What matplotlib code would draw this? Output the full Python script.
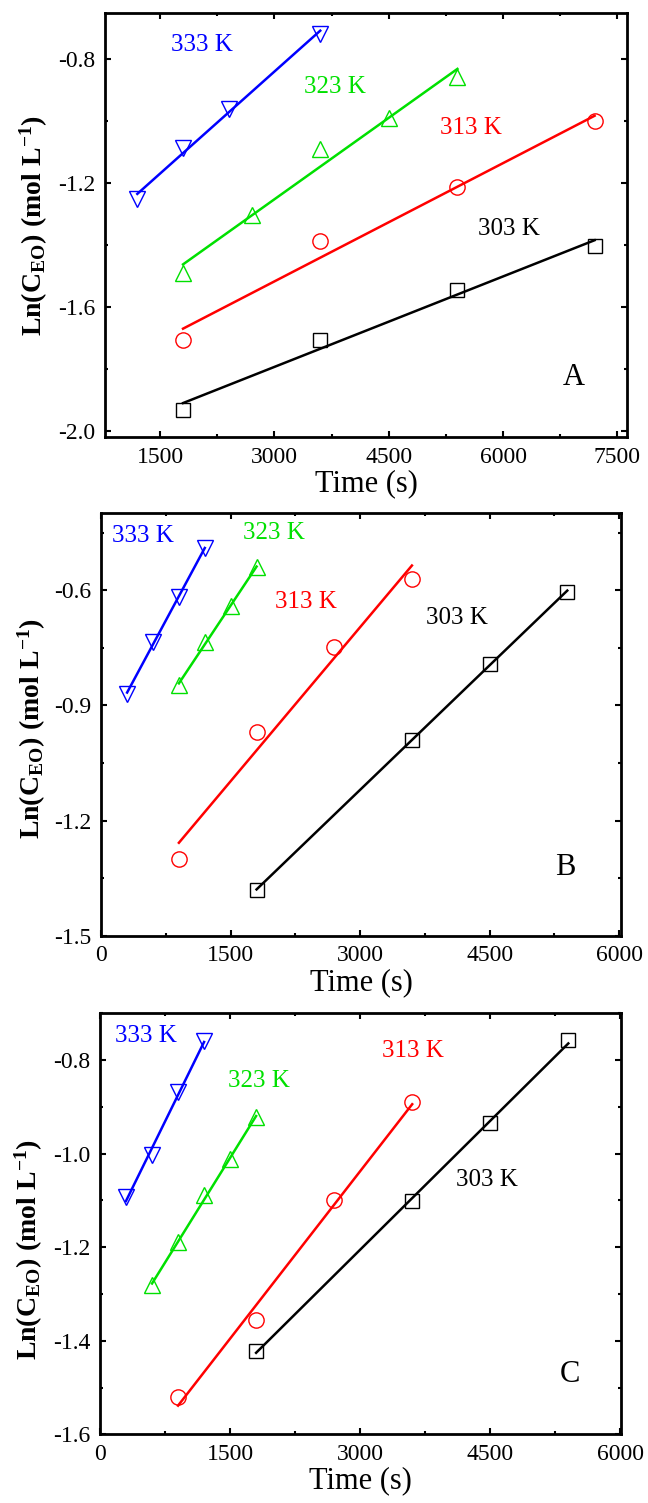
import numpy as np
import matplotlib
matplotlib.use("Agg")
import matplotlib.pyplot as plt
from matplotlib.ticker import MultipleLocator, FormatStrFormatter

plt.rcParams["font.family"] = ["Liberation Serif", "DejaVu Serif"]
plt.rcParams["mathtext.fontset"] = "custom"
plt.rcParams["mathtext.rm"] = "Liberation Serif:bold"
plt.rcParams["mathtext.it"] = "Liberation Serif:bold"
plt.rcParams["axes.unicode_minus"] = False

temps = ["303 K", "313 K", "323 K", "333 K"]
colors = ["black", "red", "#00e000", "blue"]
markers = ["s", "o", "^", "v"]
msizes = [9.5, 11, 12, 12]

# panel A
a_t303 = [1800, 3600, 5400, 7200]
a_y303 = [-1.934, -1.706, -1.545, -1.403]
a_t313 = [1800, 3600, 5400, 7200]
a_y313 = [-1.706, -1.386, -1.211, -1.000]
a_t323 = [1800, 2700, 3600, 4500, 5400]
a_y323 = [-1.491, -1.303, -1.089, -0.990, -0.858]
a_t333 = [1200, 1800, 2400, 3600]
a_y333 = [-1.252, -1.085, -0.961, -0.716]

# panel B
b_t303 = [1800, 3600, 4500, 5400]
b_y303 = [-1.381, -0.989, -0.791, -0.605]
b_t313 = [900, 1800, 2700, 3600]
b_y313 = [-1.300, -0.968, -0.748, -0.571]
b_t323 = [900, 1200, 1500, 1800]
b_y323 = [-0.846, -0.735, -0.642, -0.539]
b_t333 = [300, 600, 900, 1200]
b_y333 = [-0.870, -0.735, -0.617, -0.491]

# panel C
c_t303 = [1800, 3600, 4500, 5400]
c_y303 = [-1.421, -1.102, -0.935, -0.757]
c_t313 = [900, 1800, 2700, 3600]
c_y313 = [-1.521, -1.355, -1.100, -0.890]
c_t323 = [600, 900, 1200, 1500, 1800]
c_y323 = [-1.281, -1.189, -1.089, -1.012, -0.922]
c_t333 = [300, 600, 900, 1200]
c_y333 = [-1.093, -1.003, -0.869, -0.760]

panels = [
    dict(series=[(a_t303, a_y303), (a_t313, a_y313), (a_t323, a_y323), (a_t333, a_y333)],
         rect=[0.1625, 0.7092, 0.8045, 0.2821], xlim=(780, 7620), ylim=(-2.02, -0.65),
         xmaj=1500, ymaj=0.4, ymin=0.2, tag="A", tag_xy=(6929, -1.826),
         lab_xy=[(5671, -1.348), (5172, -1.022), (3382, -0.889), (1642, -0.754)],
         ylab_xy=(-0.106, 0.5)),
    dict(series=[(b_t303, b_y303), (b_t313, b_y313), (b_t323, b_y323), (b_t333, b_y333)],
         rect=[0.1562, 0.3774, 0.8018, 0.2810], xlim=(0, 6020), ylim=(-1.5, -0.40),
         xmaj=1500, ymaj=0.3, ymin=0.15, tag="B", tag_xy=(5375, -1.321),
         lab_xy=[(3768, -0.673), (2017, -0.631), (1645, -0.452), (129, -0.459)],
         ylab_xy=(-0.102, 0.49)),
    dict(series=[(c_t303, c_y303), (c_t313, c_y313), (c_t323, c_y323), (c_t333, c_y333)],
         rect=[0.1543, 0.0457, 0.8037, 0.2801], xlim=(0, 6005), ylim=(-1.6, -0.70),
         xmaj=1500, ymaj=0.2, ymin=0.1, tag="C", tag_xy=(5424, -1.473),
         lab_xy=[(4106, -1.057), (3249, -0.780), (1475, -0.844), (171, -0.748)],
         ylab_xy=(-0.105, 0.438)),
]

fig = plt.figure(figsize=(6.48, 15.03), dpi=100)

for p in panels:
    ax = fig.add_axes(p["rect"])
    for (t, y), c, m, ms, lab, (lx, ly) in zip(p["series"], colors, markers, msizes,
                                             temps, p["lab_xy"]):
        t = np.array(t, float); y = np.array(y, float)
        k, b = np.polyfit(t, y, 1)
        ax.plot(t, y, m, ms=ms, mfc="none", mec=c, mew=1.0, ls="none", zorder=3)
        tt = np.array([t.min(), t.max()])
        ax.plot(tt, k * tt + b, "-", color=c, lw=1.8, zorder=2)
        ax.text(lx, ly, lab, color=c, fontsize=18, ha="left", va="center")
    ax.text(*p["tag_xy"], p["tag"], fontsize=22, ha="center", va="center")
    ax.set_xlim(*p["xlim"]); ax.set_ylim(*p["ylim"])
    ax.xaxis.set_major_locator(MultipleLocator(p["xmaj"]))
    ax.xaxis.set_minor_locator(MultipleLocator(p["xmaj"] / 2))
    ax.yaxis.set_major_locator(MultipleLocator(p["ymaj"]))
    ax.yaxis.set_minor_locator(MultipleLocator(p["ymin"]))
    ax.yaxis.set_major_formatter(FormatStrFormatter("%.1f"))
    ax.xaxis.set_major_formatter(FormatStrFormatter("%d"))
    for s in ax.spines.values():
        s.set_linewidth(2.0)
    ax.tick_params(which="both", direction="in", top=True, right=True, labelsize=17)
    ax.tick_params(which="major", length=4.5, width=1.5, pad=7)
    ax.tick_params(which="minor", length=2.5, width=1.5)
    ax.set_xlabel("Time (s)", fontsize=22, labelpad=1)
    ax.set_ylabel(r"$\mathrm{Ln(C_{EO})\ (mol\ L^{-1})}$", fontsize=20)
    ax.yaxis.set_label_coords(*p["ylab_xy"])

fig.savefig("out.png", dpi=100)
